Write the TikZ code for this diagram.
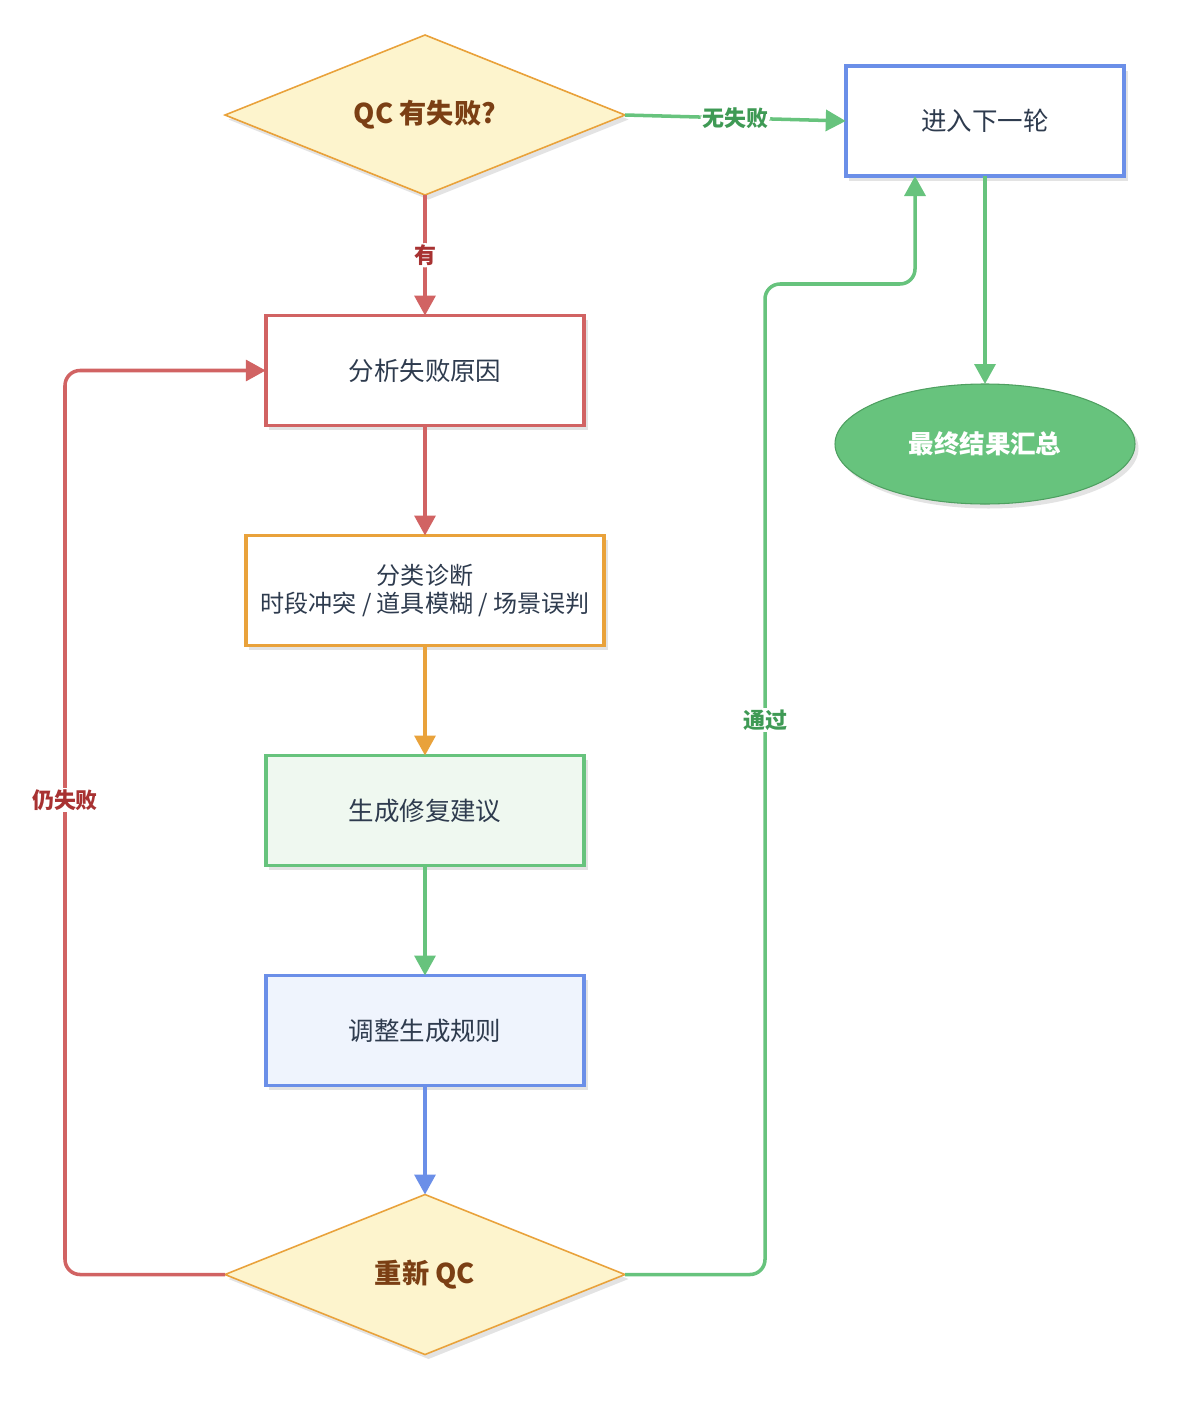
\documentclass[tikz,border=0pt]{standalone}
\usepackage{fontspec}
\setmainfont{Noto Sans CJK SC}
\usepackage{tikz}
\usetikzlibrary{shapes.geometric, arrows.meta, positioning, calc, shadows}

\definecolor{qcorange}{RGB}{233,162,59}
\definecolor{qcyellow}{RGB}{253,244,205}
\definecolor{qcbrown}{RGB}{123,63,20}
\definecolor{qcred}{RGB}{209,99,99}
\definecolor{qcredtxt}{RGB}{168,50,50}
\definecolor{qcblue}{RGB}{107,143,232}
\definecolor{qcbluefill}{RGB}{239,244,253}
\definecolor{qcgreen}{RGB}{103,195,125}
\definecolor{qcgreenfill}{RGB}{239,248,240}
\definecolor{qcgreentxt}{RGB}{63,154,85}
\definecolor{qcgreendark}{RGB}{78,159,96}
\definecolor{qctext}{RGB}{46,59,78}

\begin{document}
\begin{tikzpicture}[
  >={Triangle[length=0.4cm, width=0.42cm]},
  procnode/.style={draw, rectangle, line width=2.1pt, outer sep=0pt, fill=white, minimum width=6.37cm, minimum height=2.2cm, text=qctext, align=center, font=\fontsize{14.5}{16.5}\selectfont, drop shadow={shadow xshift=0.07cm, shadow yshift=-0.09cm, opacity=0.22}},
  decnode/.style={draw=qcorange, diamond, line width=0.9pt, outer sep=0pt, fill=qcyellow, aspect=2.5, minimum width=8cm, minimum height=3.2cm, inner sep=0pt, text=qcbrown, font=\fontsize{15.5}{17}\selectfont\bfseries, drop shadow={shadow xshift=0.07cm, shadow yshift=-0.09cm, opacity=0.22}},
  endnode/.style={draw=qcgreendark, ellipse, line width=0.6pt, outer sep=0pt, fill=qcgreen, minimum width=6cm, minimum height=2.4cm, text=white, font=\fontsize{14.5}{16.5}\selectfont\bfseries, drop shadow={shadow xshift=0.07cm, shadow yshift=-0.09cm, opacity=0.22}},
  flow/.style={->, line width=2pt, rounded corners=0.3cm},
  edgelabel/.style={fill=white, inner sep=1pt, font=\fontsize{12.5}{14}\selectfont\bfseries}
]

\useasboundingbox (0,0) rectangle (23.84,-28.2);

% nodes
\node[decnode] (QC) at (8.5,-2.3) {QC 有失败?};
\node[procnode, draw=qcblue, minimum width=5.57cm] (Next) at (19.7,-2.42) {进入下一轮};
\node[endnode] (Summary) [below=4.16cm of Next] {最终结果汇总};
\node[procnode, draw=qcred] (Analyze) [below=2.41cm of QC] {分析失败原因};
\node[procnode, draw=qcorange, minimum width=7.17cm, font=\fontsize{13.7}{16.4}\selectfont] (Classify) [below=2.2cm of Analyze]
  {分类诊断\\时段冲突 / 道具模糊 / 场景误判};
\node[procnode, draw=qcgreen, fill=qcgreenfill] (Suggest) [below=2.2cm of Classify] {生成修复建议};
\node[procnode, draw=qcblue, fill=qcbluefill] (Adjust) [below=2.2cm of Suggest] {调整生成规则};
\node[decnode] (ReQC) [below=2.18cm of Adjust] {重新 QC};

% main chain
\draw[flow, qcred] (QC) -- (Analyze) node[edgelabel, midway, text=qcredtxt] {有};
\draw[flow, qcgreen] (QC.east) -- (Next.west) node[edgelabel, midway, text=qcgreentxt] {无失败};
\draw[flow, qcgreen] (Next) -- (Summary);
\draw[flow, qcred] (Analyze) -- (Classify);
\draw[flow, qcorange] (Classify) -- (Suggest);
\draw[flow, qcgreen] (Suggest) -- (Adjust);
\draw[flow, qcblue] (Adjust) -- (ReQC);

% loops back
\draw[flow, qcred] (ReQC.west) -- ++(-3.2,0) |- (Analyze.west);
\node[edgelabel, text=qcredtxt] (FailLbl) at (1.3,-16) {仍失败};
\draw[flow, qcgreen] (ReQC.east) -- ++(2.8,0) |- ($(Next.south)+(-1.4,-2.16)$) -- ($(Next.south)+(-1.4,0)$);
\node[edgelabel, text=qcgreentxt] (PassLbl) at (15.3,-14.4) {通过};

\end{tikzpicture}
\end{document}
